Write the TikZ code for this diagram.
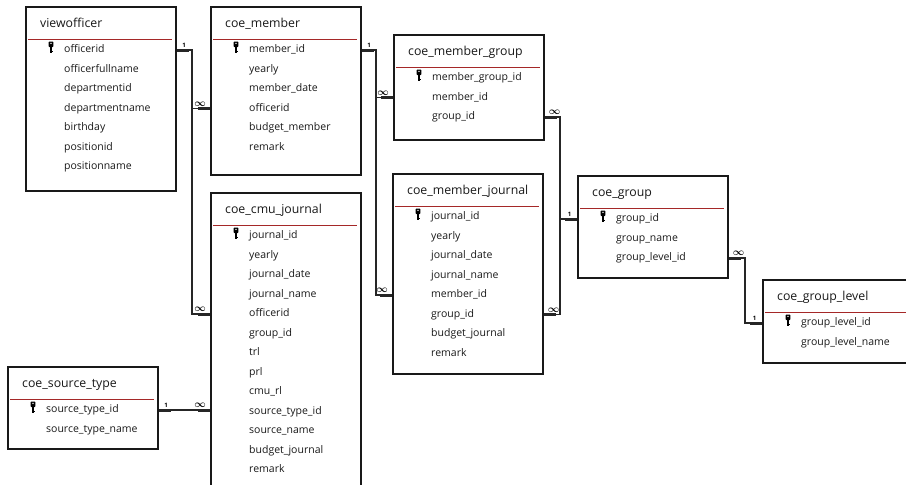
\documentclass[tikz,border=0pt]{standalone}
\usepackage{fontspec}
\setmainfont{Open Sans}
\usetikzlibrary{calc}

\definecolor{sepred}{RGB}{165,40,40}

\tikzset{
    pkey/.pic={
        \fill[rounded corners=0.8pt] (-2.4,-8.5) rectangle (2.4,-3);
        \fill (-1.1,-3.5) rectangle (1.1,3);
        \fill (1,0.5) rectangle (2.2,2.2);
        \fill[white] (0,-6.6) circle (0.8);
    }
}

% one table: name, x, y, height, title, fields
\newcommand{\erdtable}[6]{%
    \node[tbl, minimum height=#4] (#1) at (#2,#3) {};
    \node[ttl] (#1-t) at (#2+15,#3+18) {#5};
    \draw[sep] (#2+3,#3+33.5) -- (#2+147,#3+33.5);
    \pic at (#2+26,#3+44) {pkey};
    \foreach \f [count=\i] in {#6}
        \node[fld] (#1-\i) at (#2+39,#3+44+19.5*\i-19.5) {\f};
}

\begin{document}
\begin{tikzpicture}[
        x=1pt, y=-1pt,
        tbl/.style={draw=black!90, line width=1.6pt, fill=white, anchor=north west, minimum width=150, inner sep=0pt},
        ttl/.style={anchor=west, inner sep=0pt, text height=9pt, text depth=3pt, text=black!90, font=\fontsize{12.3}{14}\selectfont},
        fld/.style={anchor=west, inner sep=0pt, text height=8pt, text depth=2.5pt, text=black!90, font=\fontsize{10.5}{12}\selectfont},
        sep/.style={draw=sepred, line width=1pt},
        rel/.style={draw=black!85, line width=1.3pt},
        stub/.style={fill=black!85, minimum width=12pt, minimum height=3pt, inner sep=0pt, outer sep=0pt},
        one/.style={inner sep=1pt, yshift=1pt, font=\bfseries\fontsize{6}{6}\selectfont},
        many/.style={inner sep=0.5pt, yshift=1pt, font=\fontsize{10}{10}\selectfont\boldmath}
    ]
        \useasboundingbox (0,0) rectangle (906,485);

        % Tables
        \erdtable{vo}{25}{6}{184}{viewofficer}{officerid, officerfullname, departmentid, departmentname, birthday, positionid, positionname}
        \erdtable{cm}{210}{6}{168}{coe\_member}{member\_id, yearly, member\_date, officerid, budget\_member, remark}
        \erdtable{mg}{393}{34}{105}{coe\_member\_group}{member\_group\_id, member\_id, group\_id}
        \erdtable{mj}{392}{173}{200}{coe\_member\_journal}{journal\_id, yearly, journal\_date, journal\_name, member\_id, group\_id, budget\_journal, remark}
        \erdtable{grp}{577}{175}{102}{coe\_group}{group\_id, group\_name, group\_level\_id}
        \erdtable{gl}{762}{279}{83}{coe\_group\_level}{group\_level\_id, group\_level\_name}
        \erdtable{cj}{210}{192}{310}{coe\_cmu\_journal}{journal\_id, yearly, journal\_date, journal\_name, officerid, group\_id, trl, prl, cmu\_rl, source\_type\_id, source\_name, budget\_journal, remark}
        \erdtable{st}{7}{366}{82}{coe\_source\_type}{source\_type\_id, source\_type\_name}

        % Relations
        \coordinate (bus-vo) at (192,0);
        \coordinate (bus-cm) at (376,0);
        \coordinate (bus-grp) at (560,0);
        \coordinate (bus-gl) at (745,0);

        \draw[rel] (vo.east |- vo-1) -| node[stub, pos=0, anchor=west] {} node[one, pos=0, above right, xshift=4pt] {1} (bus-vo |- cm-4) -- node[stub, pos=1, anchor=east] {} node[many, pos=1, above left, xshift=-3pt] {$\infty$} (cm.west |- cm-4);
        \draw[rel] (vo.east |- vo-1) -| (bus-vo |- cj-5) -- node[stub, pos=1, anchor=east] {} node[many, pos=1, above left, xshift=-3pt] {$\infty$} (cj.west |- cj-5);

        \draw[rel] (cm.east |- cm-1) -| node[stub, pos=0, anchor=west] {} node[one, pos=0, above right, xshift=4pt] {1} (bus-cm |- mg-2) -- node[stub, pos=1, anchor=east] {} node[many, pos=1, above left, xshift=-3pt] {$\infty$} (mg.west |- mg-2);
        \draw[rel] (cm.east |- cm-1) -| (bus-cm |- mj-5) -- node[stub, pos=1, anchor=east] {} node[many, pos=1, above left, xshift=-3pt] {$\infty$} (mj.west |- mj-5);

        \draw[rel] (grp.west |- grp-1) -| node[stub, pos=0, anchor=east] {} node[one, pos=0, above left, xshift=-4pt] {1} (bus-grp |- mg-3) -- node[stub, pos=1, anchor=west] {} node[many, pos=1, above right, xshift=3pt] {$\infty$} (mg.east |- mg-3);
        \draw[rel] (grp.west |- grp-1) -| (bus-grp |- mj-6) -- node[stub, pos=1, anchor=west] {} node[many, pos=1, above right, xshift=3pt] {$\infty$} (mj.east |- mj-6);

        \draw[rel] (grp.east |- grp-3) -| node[stub, pos=0, anchor=west] {} node[many, pos=0, above right, xshift=3pt] {$\infty$} (bus-gl |- gl-1) -- node[stub, pos=1, anchor=east] {} node[one, pos=1, above left, xshift=-4pt] {1} (gl.west |- gl-1);

        \draw[rel] (st.east |- st-1) -- node[stub, pos=0, anchor=west] {} node[one, pos=0, above right, xshift=4pt] {1} node[stub, pos=1, anchor=east] {} node[many, pos=1, above left, xshift=-3pt] {$\infty$} (cj.west |- st-1);
    \end{tikzpicture}
\end{document}
